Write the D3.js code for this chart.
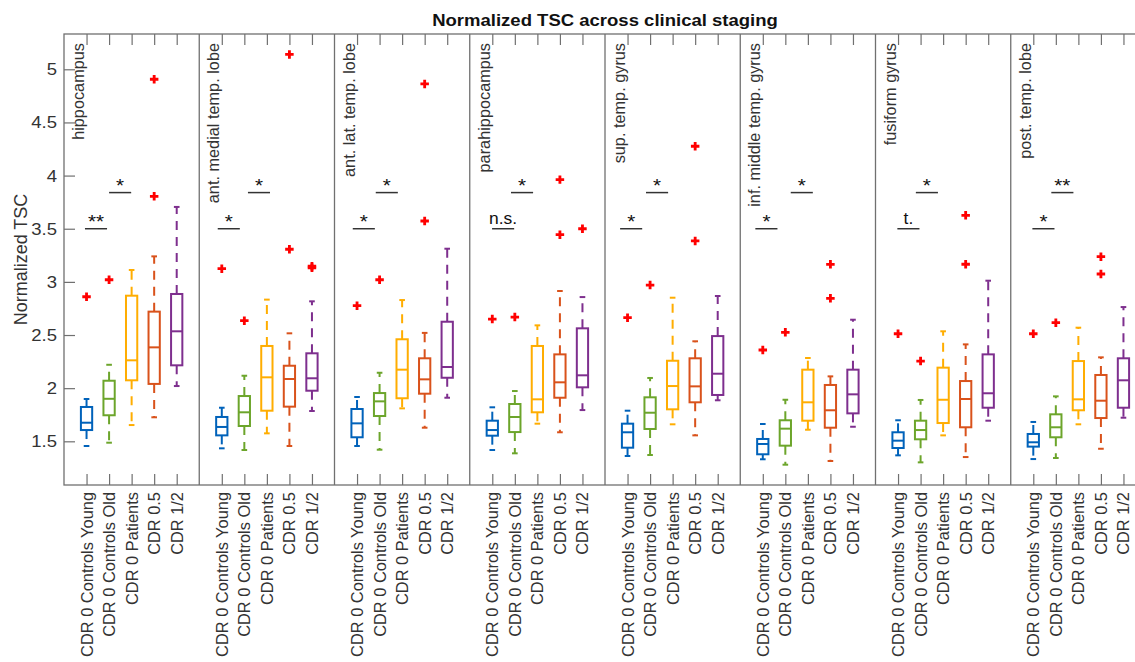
<!DOCTYPE html>
<html>
<head>
<meta charset="utf-8">
<script src="https://cdn.jsdelivr.net/npm/d3@7"></script>
<style>
  body { margin: 0; background: #fff; }
  svg { display: block; font-family: "Liberation Sans", Arial, Helvetica, sans-serif; }
</style>
</head>
<body>
<svg id="chart" width="1135" height="662"></svg>
<script>
const regions = ['hippocampus', 'ant. medial temp. lobe', 'ant. lat. temp. lobe', 'parahippocampus',
  'sup. temp. gyrus', 'inf. middle temp. gyrus', 'fusiform gyrus', 'post. temp. lobe'];
const groups = ['CDR 0 Controls Young', 'CDR 0 Controls Old', 'CDR 0 Patients', 'CDR 0.5', 'CDR 1/2'];
const yTicks = [1.5, 2, 2.5, 3, 3.5, 4, 4.5, 5];

// one row per region, one value per group
const whiskerLo = [
  [1.456, 1.487, 1.653, 1.726, 2.020],
  [1.434, 1.418, 1.575, 1.456, 1.785],
  [1.456, 1.421, 1.810, 1.628, 1.910],
  [1.418, 1.387, 1.666, 1.585, 1.794],
  [1.362, 1.371, 1.660, 1.556, 1.886],
  [1.331, 1.280, 1.609, 1.315, 1.637],
  [1.368, 1.302, 1.556, 1.352, 1.694],
  [1.333, 1.343, 1.660, 1.430, 1.722]
];
const q1 = [
  [1.606, 1.745, 2.074, 2.040, 2.215],
  [1.556, 1.644, 1.788, 1.826, 1.976],
  [1.538, 1.738, 1.905, 1.948, 2.098],
  [1.553, 1.587, 1.773, 1.910, 2.008],
  [1.440, 1.616, 1.801, 1.867, 1.936],
  [1.378, 1.459, 1.694, 1.628, 1.763],
  [1.437, 1.519, 1.672, 1.632, 1.816],
  [1.450, 1.538, 1.792, 1.719, 1.816]
];
const medians = [
  [1.675, 1.900, 2.262, 2.384, 2.535],
  [1.635, 1.773, 2.102, 2.086, 2.093],
  [1.669, 1.876, 2.174, 2.083, 2.199],
  [1.606, 1.729, 1.895, 2.055, 2.121],
  [1.585, 1.769, 2.020, 2.017, 2.136],
  [1.475, 1.619, 1.867, 1.792, 1.942],
  [1.506, 1.606, 1.891, 1.898, 1.952],
  [1.491, 1.632, 1.895, 1.882, 2.074]
];
const q3 = [
  [1.823, 2.070, 2.870, 2.720, 2.886],
  [1.729, 1.926, 2.397, 2.211, 2.328],
  [1.804, 1.954, 2.460, 2.281, 2.625],
  [1.694, 1.851, 2.397, 2.318, 2.563],
  [1.666, 1.914, 2.258, 2.281, 2.490],
  [1.522, 1.698, 2.174, 2.030, 2.174],
  [1.585, 1.694, 2.193, 2.067, 2.318],
  [1.569, 1.754, 2.255, 2.124, 2.281]
];
const whiskerHi = [
  [1.898, 2.220, 3.112, 3.240, 3.705],
  [1.816, 2.117, 2.833, 2.516, 2.817],
  [1.917, 2.145, 2.829, 2.520, 3.312],
  [1.820, 1.973, 2.591, 2.914, 2.857],
  [1.788, 2.096, 2.851, 2.441, 2.867],
  [1.663, 1.891, 2.284, 2.111, 2.644],
  [1.698, 1.889, 2.535, 2.412, 3.011],
  [1.682, 1.923, 2.569, 2.290, 2.763]
];
// [region, group, value]
const outliers = [
  [0, 0, 2.86], [0, 1, 3.02], [0, 3, 4.906], [0, 3, 3.805],
  [1, 0, 3.124], [1, 1, 2.635], [1, 3, 5.14], [1, 3, 3.307], [1, 4, 3.132], [1, 4, 3.148],
  [2, 0, 2.776], [2, 1, 3.02], [2, 3, 4.862], [2, 3, 3.573],
  [3, 0, 2.65], [3, 1, 2.669], [3, 3, 3.962], [3, 3, 3.444], [3, 4, 3.50],
  [4, 0, 2.663], [4, 1, 2.97], [4, 3, 4.276], [4, 3, 3.385],
  [5, 0, 2.359], [5, 1, 2.525], [5, 3, 3.165], [5, 3, 2.845],
  [6, 0, 2.512], [6, 1, 2.255], [6, 3, 3.626], [6, 3, 3.166],
  [7, 0, 2.512], [7, 1, 2.616], [7, 3, 3.237], [7, 3, 3.074]
];
// significance marks: first compares groups 1-2, second groups 2-3
const sigLabel1 = ['**', '*', '*', 'n.s.', '*', '*', 't.', '*'];
const sigLabel2 = ['*', '*', '*', '*', '*', '*', '*', '**'];
const sigStart1 = [0.93, 0.82, 0.81, 0.99, 0.67, 0.67, 0.97, 0.96];
const sigStart2 = [2.00, 2.16, 1.83, 1.83, 1.82, 2.24, 1.79, 1.80];
const sigLevel1 = 3.5;
const sigLevel2 = 3.84;

const colors = ['#0062BA', '#6CA52B', '#FFAD00', '#D9521B', '#7E2F8E'];
const axisColor = '#707070';
const textColor = '#333';
const stretch = 1.09; // horizontal text looks slightly wider in the source

const svg = d3.select('#chart');
const mLeft = 64, mRight = 1146, mTop = 34, mBottom = 485;
const slots = 6;

const x = d3.scaleLinear()
  .domain([0, regions.length * slots])
  .range([mLeft, mRight]);
const y = d3.scaleLinear()
  .domain([1.089, 5.332])
  .range([mBottom, mTop]);

const pos = (r, g) => r * slots + g + 1;
const boxW = 0.5, capW = 0.25;

// title
svg.append('text')
  .attr('transform', `translate(${(mLeft + mRight) / 2}, 26) scale(${stretch},1)`)
  .attr('text-anchor', 'middle')
  .attr('font-weight', 'bold')
  .attr('font-size', 17)
  .attr('fill', '#111')
  .text('Normalized TSC across clinical staging');

// y label
svg.append('text')
  .attr('transform', `translate(27, ${(mTop + mBottom) / 2}) rotate(-90)`)
  .attr('text-anchor', 'middle')
  .attr('font-size', 18)
  .attr('fill', textColor)
  .text('Normalized TSC');

const tickPositions = [];
regions.forEach((r, ri) => groups.forEach((g, gi) => tickPositions.push({ p: pos(ri, gi), label: g })));

// axes
const yLeft = d3.axisLeft(y).tickValues(yTicks).tickSize(-11).tickPadding(7).tickFormat(d3.format('~g'));
const yRight = d3.axisRight(y).tickValues(yTicks).tickSize(-11).tickFormat('');
const xBottom = d3.axisBottom(x).tickValues(tickPositions.map(d => d.p)).tickSize(-11).tickFormat('');
const xTop = d3.axisTop(x).tickValues(tickPositions.map(d => d.p)).tickSize(-11).tickFormat('');

function styleAxis(g) {
  g.select('.domain').remove();
  g.selectAll('.tick line').attr('stroke', axisColor).attr('stroke-width', 1.2);
  g.selectAll('.tick text').attr('fill', textColor).attr('font-size', 17).attr('font-family', null);
}

svg.append('g').attr('transform', `translate(${mLeft},0)`).call(yLeft).call(styleAxis)
  .selectAll('.tick text')
  .attr('transform', `translate(-7,0) scale(${stretch},1)`)
  .attr('x', 0);
svg.append('g').attr('transform', `translate(${mRight},0)`).call(yRight).call(styleAxis);
svg.append('g').attr('transform', `translate(0,${mBottom})`).call(xBottom).call(styleAxis);
svg.append('g').attr('transform', `translate(0,${mTop})`).call(xTop).call(styleAxis);

// rotated group labels
svg.append('g').selectAll('text')
  .data(tickPositions)
  .join('text')
  .attr('transform', d => `translate(${x(d.p) + 6}, ${mBottom + 7}) rotate(-90)`)
  .attr('text-anchor', 'end')
  .attr('font-size', 16.4)
  .attr('fill', textColor)
  .text(d => d.label);

// axes box and panel dividers
svg.append('rect')
  .attr('x', mLeft).attr('y', mTop)
  .attr('width', mRight - mLeft).attr('height', mBottom - mTop)
  .attr('fill', 'none').attr('stroke', axisColor).attr('stroke-width', 1.3);

svg.append('g').selectAll('line')
  .data(d3.range(1, regions.length))
  .join('line')
  .attr('x1', d => x(d * slots)).attr('x2', d => x(d * slots))
  .attr('y1', mTop).attr('y2', mBottom)
  .attr('stroke', axisColor).attr('stroke-width', 1.3);

// region names
svg.append('g').selectAll('text')
  .data(regions)
  .join('text')
  .attr('transform', (d, i) => `translate(${x(i * slots) + 20}, 43) rotate(-90)`)
  .attr('text-anchor', 'end')
  .attr('font-size', 16.3)
  .attr('fill', textColor)
  .text(d => d);

// boxes
const boxes = [];
regions.forEach((r, ri) => groups.forEach((g, gi) => boxes.push({
  p: pos(ri, gi), color: colors[gi],
  lo: whiskerLo[ri][gi], q1: q1[ri][gi], med: medians[ri][gi], q3: q3[ri][gi], hi: whiskerHi[ri][gi]
})));

const bx = svg.append('g').selectAll('g')
  .data(boxes)
  .join('g')
  .attr('stroke', d => d.color)
  .attr('stroke-width', 2)
  .attr('fill', 'none');

bx.append('line')
  .attr('x1', d => x(d.p)).attr('x2', d => x(d.p))
  .attr('y1', d => y(d.q3)).attr('y2', d => y(d.hi))
  .attr('stroke-dasharray', '9,7');
bx.append('line')
  .attr('x1', d => x(d.p)).attr('x2', d => x(d.p))
  .attr('y1', d => y(d.q1)).attr('y2', d => y(d.lo))
  .attr('stroke-dasharray', '9,7');
bx.append('line')
  .attr('x1', d => x(d.p - capW / 2)).attr('x2', d => x(d.p + capW / 2))
  .attr('y1', d => y(d.hi)).attr('y2', d => y(d.hi));
bx.append('line')
  .attr('x1', d => x(d.p - capW / 2)).attr('x2', d => x(d.p + capW / 2))
  .attr('y1', d => y(d.lo)).attr('y2', d => y(d.lo));
bx.append('rect')
  .attr('x', d => x(d.p - boxW / 2))
  .attr('width', x(boxW) - x(0))
  .attr('y', d => y(d.q3))
  .attr('height', d => y(d.q1) - y(d.q3));
bx.append('line')
  .attr('x1', d => x(d.p - boxW / 2)).attr('x2', d => x(d.p + boxW / 2))
  .attr('y1', d => y(d.med)).attr('y2', d => y(d.med));

// outliers
const plus = d3.symbol().type(d3.symbolCross).size(40);
svg.append('g').selectAll('path')
  .data(outliers)
  .join('path')
  .attr('transform', d => `translate(${x(pos(d[0], d[1]))}, ${y(d[2])})`)
  .attr('d', plus)
  .attr('fill', '#ff0000');

// significance bars
const sig = [];
regions.forEach((r, ri) => {
  sig.push({ s: ri * slots + sigStart1[ri], v: sigLevel1, label: sigLabel1[ri] });
  sig.push({ s: ri * slots + sigStart2[ri], v: sigLevel2, label: sigLabel2[ri] });
});
const sg = svg.append('g').selectAll('g').data(sig).join('g');
sg.append('line')
  .attr('x1', d => x(d.s)).attr('x2', d => x(d.s + 0.98))
  .attr('y1', d => y(d.v)).attr('y2', d => y(d.v))
  .attr('stroke', '#333').attr('stroke-width', 1.5);
sg.append('text')
  .attr('transform', d => `translate(${x(d.s + 0.49)}, ${y(d.v) - (d.label.includes('*') ? 1 : 5)}) scale(${stretch},1)`)
  .attr('text-anchor', 'middle')
  .attr('font-size', d => d.label.includes('*') ? 19 : 16)
  .attr('fill', '#111')
  .text(d => d.label);
</script>
</body>
</html>
